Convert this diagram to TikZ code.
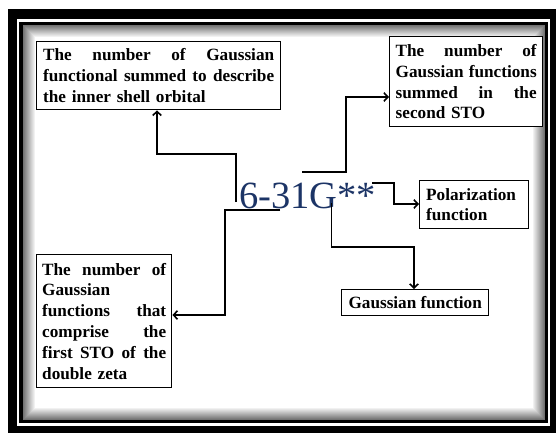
\documentclass[tikz,border=0pt]{standalone}
\usepackage{fontspec}
\setmainfont{Liberation Serif}
\usetikzlibrary{arrows.meta}
\definecolor{navy}{RGB}{28,52,102}
\newcommand\jl[2]{\leavevmode\hbox to #1{\spaceskip=.25em plus 1fil\relax #2}}
\begin{document}
\begin{tikzpicture}[x=1pt,y=-1pt,
  txtbox/.style={draw=black, line width=1.4pt, fill=white,
    font=\fontsize{17.2}{20.8}\selectfont\bfseries,
    align=left, inner sep=0pt, anchor=north west},
  conn/.style={line width=1.6pt, -{Straight Barb[length=4pt,width=8.5pt]}}]
\useasboundingbox (0,0) rectangle (556,433);
\fill[white] (0,0) rectangle (556,433);
% frame
\fill[black] (8,9) rectangle (556,433);
\fill[white] (17,19) rectangle (550,426);
\fill[black] (19,22) rectangle (548,423);
\fill[white] (23,25) rectangle (545,420);
\foreach \i in {0,...,11}{
  \pgfmathsetmacro\g{55-4.5*\i}
  \draw[black!\g, line width=1pt] (23.5+\i,25.5+\i) rectangle (544.5-\i,419.5-\i);
}
% boxes
\node[txtbox, minimum width=244pt, minimum height=68pt, text width=231pt] (A) at (36,41)
  {\jl{231pt}{The number of Gaussian}\\ \jl{231pt}{functional summed to describe}\\ the inner shell orbital};
\node[txtbox, minimum width=153pt, minimum height=90pt, text width=141pt] (B) at (389,36)
  {\jl{141pt}{The number of}\\ \jl{141pt}{Gaussian functions}\\ \jl{141pt}{summed in the}\\ second STO};
\node[txtbox, minimum width=109pt, minimum height=48pt, text width=96pt] (C) at (419,180)
  {Polarization\\ function};
\node[txtbox, minimum width=147pt, minimum height=26pt, align=center] (D) at (341,289)
  {Gaussian function};
\node[txtbox, minimum width=135pt, minimum height=133pt, text width=124pt] (E) at (36,254)
  {\jl{124pt}{The number of}\\ Gaussian\\ \jl{124pt}{functions that}\\ \jl{124pt}{comprise the}\\ \jl{124pt}{first STO of the}\\ double zeta};
% main label
\node[font=\fontsize{38.5}{44}\selectfont, text=navy, inner sep=0pt, anchor=base west] (L) at (239,208) {6-31G**};
% connector start points
\coordinate (s1) at (236,202);
\coordinate (s2) at (280,210);
\coordinate (s3) at (302,172);
\coordinate (s4) at (372,183);
\coordinate (s5) at (331.5,203);
% connectors
\draw[conn] (s1) |- (157,154) -- (A.south -| 157,0);
\draw[conn] (s2) -| (225,315) -- (E.east |- 0,315);
\draw[conn] (s3) -| (346,97) -- (B.west |- 0,97);
\draw[conn] (s4) -| (394,204) -- (C.west |- 0,204);
\draw[conn] (s5) |- (414,247) -- (D.north -| 414,0);
\end{tikzpicture}
\end{document}
